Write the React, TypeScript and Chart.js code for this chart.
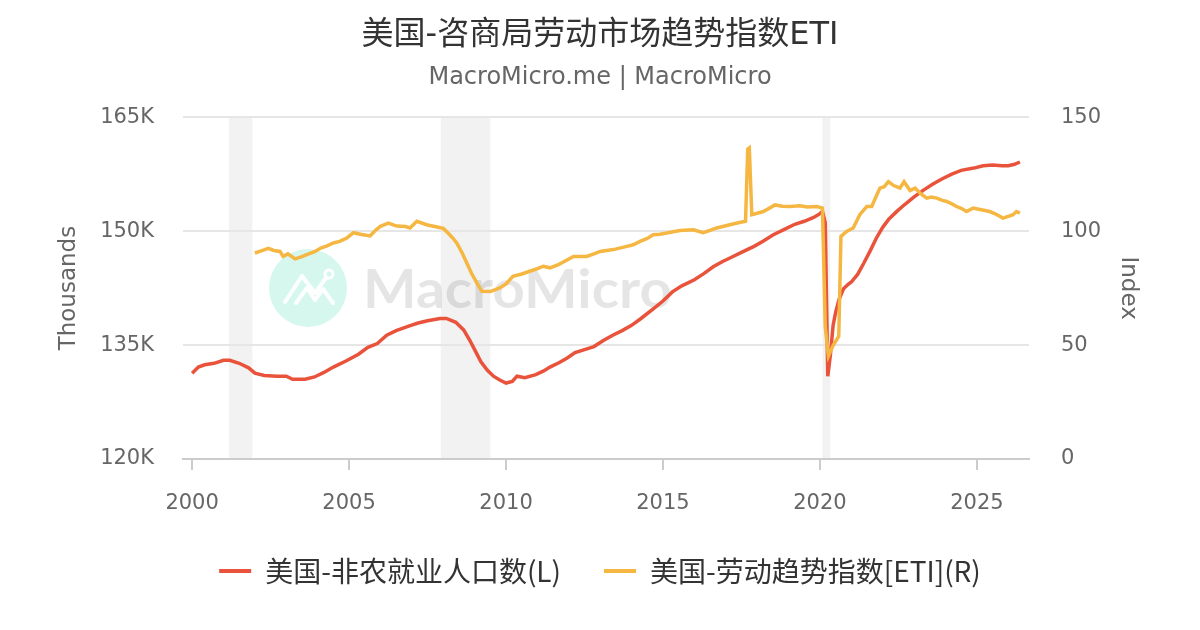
import { useEffect, useRef } from "react";
import { Chart, registerables } from "chart.js";

Chart.register(...registerables);

// ---- data ----
const chartTitle = "美国-咨商局劳动市场趋势指数ETI";
const chartSubtitle = "MacroMicro.me | MacroMicro";
const seriesNames = ["美国-非农就业人口数(L)", "美国-劳动趋势指数[ETI](R)"];
const seriesColors = ["#E9533B", "#F5B741"];
const leftAxisTitle = "Thousands";
const rightAxisTitle = "Index";
const yearTicks = [2000, 2005, 2010, 2015, 2020, 2025];
const leftTicks = [120, 135, 150, 165];
const rightTicks = [0, 50, 100, 150];
const recessions: [number, number][] = [
  [2001.17, 2001.92],
  [2007.92, 2009.5],
  [2020.08, 2020.33],
];

// US nonfarm payrolls, thousands of thousands (K) [year, value]
const payrollSeries: [number, number][] = [
  [2000.0, 131.3], [2000.2, 132.1], [2000.4, 132.4], [2000.7, 132.6], [2001.0, 133.0],
  [2001.2, 133.0], [2001.5, 132.6], [2001.8, 132.0], [2002.0, 131.3], [2002.3, 131.0],
  [2002.7, 130.9], [2003.0, 130.9], [2003.2, 130.5], [2003.6, 130.5], [2003.9, 130.8],
  [2004.2, 131.4], [2004.5, 132.1], [2004.9, 132.9], [2005.3, 133.8], [2005.6, 134.7],
  [2005.9, 135.2], [2006.2, 136.3], [2006.5, 136.9], [2006.9, 137.5], [2007.2, 137.9],
  [2007.5, 138.2], [2007.9, 138.5], [2008.1, 138.5], [2008.4, 138.0], [2008.65, 137.0],
  [2008.85, 135.6], [2009.0, 134.4], [2009.2, 132.8], [2009.4, 131.7], [2009.6, 130.9],
  [2009.8, 130.4], [2010.0, 130.0], [2010.2, 130.2], [2010.35, 130.9], [2010.6, 130.7],
  [2010.95, 131.1], [2011.2, 131.6], [2011.4, 132.1], [2011.7, 132.7], [2011.95, 133.3],
  [2012.2, 134.0], [2012.5, 134.4], [2012.8, 134.8], [2013.1, 135.6], [2013.4, 136.3],
  [2013.7, 136.9], [2014.0, 137.6], [2014.3, 138.5], [2014.7, 139.8], [2015.0, 140.8],
  [2015.3, 142.0], [2015.6, 142.8], [2016.0, 143.6], [2016.3, 144.4], [2016.6, 145.3],
  [2016.9, 146.0], [2017.2, 146.6], [2017.5, 147.2], [2017.9, 148.0], [2018.2, 148.7],
  [2018.5, 149.5], [2018.9, 150.3], [2019.2, 150.9], [2019.5, 151.3], [2019.8, 151.8],
  [2020.0, 152.3], [2020.08, 152.6], [2020.17, 151.1], [2020.25, 130.9], [2020.33, 133.6],
  [2020.42, 137.6], [2020.5, 139.3], [2020.6, 140.9], [2020.75, 142.4], [2020.9, 143.0],
  [2021.0, 143.3], [2021.2, 144.3], [2021.4, 145.8], [2021.6, 147.4], [2021.8, 149.1],
  [2022.0, 150.5], [2022.2, 151.6], [2022.45, 152.6], [2022.7, 153.5], [2023.0, 154.5],
  [2023.3, 155.4], [2023.6, 156.2], [2023.9, 156.9], [2024.2, 157.5], [2024.5, 158.0],
  [2024.9, 158.3], [2025.2, 158.6], [2025.5, 158.7], [2025.8, 158.6], [2026.0, 158.6],
  [2026.2, 158.8], [2026.37, 159.1],
];

// Conference Board Employment Trends Index [year, value]
const etiSeries: [number, number][] = [
  [2002.0, 90.4], [2002.2, 91.3], [2002.43, 92.4], [2002.6, 91.5], [2002.8, 91.1],
  [2002.9, 88.9], [2003.05, 90.0], [2003.28, 87.8], [2003.5, 88.8], [2003.65, 89.7],
  [2003.9, 91.0], [2004.1, 92.6], [2004.3, 93.5], [2004.5, 94.8], [2004.7, 95.5],
  [2004.93, 97.0], [2005.14, 99.3], [2005.4, 98.5], [2005.67, 97.9], [2005.85, 100.5],
  [2006.0, 102.1], [2006.25, 103.5], [2006.52, 102.2], [2006.8, 102.0], [2006.94, 101.4],
  [2007.16, 104.3], [2007.47, 102.8], [2007.8, 101.8], [2008.0, 101.2], [2008.1, 99.9],
  [2008.3, 97.0], [2008.43, 94.8], [2008.6, 90.5], [2008.75, 86.0], [2008.9, 81.5],
  [2009.07, 77.3], [2009.23, 73.6], [2009.5, 73.5], [2009.8, 75.1], [2010.0, 76.8],
  [2010.22, 80.2], [2010.5, 81.2], [2010.76, 82.4], [2011.0, 83.5], [2011.19, 84.6],
  [2011.4, 83.9], [2011.67, 85.3], [2011.9, 87.0], [2012.15, 88.9], [2012.57, 88.9],
  [2012.8, 90.0], [2013.0, 91.1], [2013.42, 91.9], [2013.85, 93.3], [2014.05, 94.0],
  [2014.27, 95.5], [2014.5, 96.8], [2014.69, 98.4], [2014.9, 98.6], [2015.12, 99.2],
  [2015.54, 100.3], [2015.97, 100.6], [2016.28, 99.3], [2016.5, 100.3], [2016.71, 101.4],
  [2017.13, 102.8], [2017.4, 103.7], [2017.63, 104.3], [2017.7, 136.0], [2017.75, 136.5],
  [2017.83, 107.2], [2018.2, 108.6], [2018.57, 111.5], [2018.8, 110.9], [2019.04, 110.8],
  [2019.36, 111.1], [2019.6, 110.6], [2019.9, 110.8], [2020.08, 110.1], [2020.17, 58.0],
  [2020.27, 45.2], [2020.41, 49.6], [2020.6, 53.9], [2020.67, 97.7], [2020.85, 99.9],
  [2021.06, 101.4], [2021.27, 107.2], [2021.49, 110.8], [2021.65, 110.8], [2021.8, 115.5],
  [2021.91, 118.9], [2022.05, 119.5], [2022.18, 121.7], [2022.35, 120.0], [2022.55, 118.9],
  [2022.68, 121.7], [2022.87, 117.8], [2023.03, 118.9], [2023.2, 116.5], [2023.4, 114.5],
  [2023.55, 115.0], [2023.72, 114.5], [2023.9, 113.5], [2024.04, 113.0], [2024.2, 112.0],
  [2024.35, 110.8], [2024.5, 110.0], [2024.67, 108.6], [2024.88, 110.1], [2025.1, 109.5],
  [2025.41, 108.6], [2025.6, 107.5], [2025.83, 105.7], [2026.0, 106.5], [2026.15, 107.2],
  [2026.26, 108.6], [2026.37, 107.9],
];

const BASE_FONT = "'DejaVu Sans', 'Noto Sans CJK SC', sans-serif";
const LEGEND_FONT = "'Noto Sans CJK SC', 'DejaVu Sans', sans-serif";

const bandPlugin = {
  id: "recessionBands",
  beforeDraw(chart: any) {
    const { ctx, chartArea, scales } = chart;
    const xs = scales.x;
    ctx.save();
    ctx.fillStyle = "#f2f2f2";
    recessions.forEach(([a, b]) => {
      const x1 = xs.getPixelForValue(a);
      const x2 = xs.getPixelForValue(b);
      ctx.fillRect(x1, chartArea.top, x2 - x1, chartArea.bottom - chartArea.top);
    });
    ctx.restore();
  },
};

const watermarkPlugin = {
  id: "watermark",
  beforeDatasetsDraw(chart: any) {
    const { ctx } = chart;
    ctx.save();
    // logo circle
    ctx.fillStyle = "rgba(180, 240, 222, 0.55)";
    ctx.beginPath();
    ctx.arc(308, 288, 39, 0, Math.PI * 2);
    ctx.fill();
    ctx.strokeStyle = "rgba(255,255,255,0.95)";
    ctx.lineWidth = 4;
    ctx.lineCap = "round";
    ctx.lineJoin = "round";
    ctx.beginPath();
    ctx.moveTo(285, 302);
    ctx.lineTo(302, 276);
    ctx.lineTo(315, 293);
    ctx.lineTo(326, 278);
    ctx.stroke();
    ctx.beginPath();
    ctx.moveTo(296, 303);
    ctx.lineTo(307, 288);
    ctx.lineTo(315, 300);
    ctx.lineTo(323, 289);
    ctx.lineTo(333, 303);
    ctx.stroke();
    ctx.lineWidth = 3;
    ctx.beginPath();
    ctx.arc(329, 274, 4, 0, Math.PI * 2);
    ctx.stroke();
    // wordmark
    ctx.font = "bold 54px Lato, 'DejaVu Sans', sans-serif";
    ctx.fillStyle = "rgba(0,0,0,0.1)";
    ctx.textBaseline = "alphabetic";
    const w = ctx.measureText("MacroMicro").width;
    ctx.translate(363, 308);
    ctx.scale(309 / w, 1);
    ctx.fillText("MacroMicro", 0, 0);
    ctx.restore();
  },
};

export default function App() {
  const ref = useRef<HTMLCanvasElement | null>(null);

  useEffect(() => {
    if (!ref.current) return;
    const chart = new Chart(ref.current, {
      type: "line",
      data: {
        datasets: [
          {
            label: seriesNames[0],
            data: payrollSeries.map(([x, y]) => ({ x, y })),
            borderColor: seriesColors[0],
            backgroundColor: seriesColors[0],
            borderWidth: 3.5,
            pointRadius: 0,
            fill: false,
            tension: 0,
            yAxisID: "y",
            order: 2,
          },
          {
            label: seriesNames[1],
            data: etiSeries.map(([x, y]) => ({ x, y })),
            borderColor: seriesColors[1],
            backgroundColor: seriesColors[1],
            borderWidth: 3.5,
            pointRadius: 0,
            fill: false,
            tension: 0,
            yAxisID: "y1",
            order: 1,
          },
        ],
      },
      options: {
        responsive: false,
        animation: false,
        devicePixelRatio: 1,
        layout: { padding: { left: 0, right: 0, top: 0, bottom: 35 } },
        plugins: {
          tooltip: { enabled: false },
          title: {
            display: true,
            text: chartTitle,
            color: "#333333",
            font: { family: BASE_FONT, size: 32, weight: "normal" },
            padding: { top: 16, bottom: 0 },
          },
          subtitle: {
            display: true,
            text: chartSubtitle,
            color: "#666666",
            font: { family: BASE_FONT, size: 24, weight: "normal" },
            padding: { top: 9, bottom: 25 },
          },
          legend: {
            position: "bottom",
            labels: {
              color: "#333333",
              font: { family: LEGEND_FONT, size: 28 },
              boxWidth: 32,
              boxHeight: 4,
              padding: 43,
              sort: (a: any, b: any) => a.datasetIndex - b.datasetIndex,
              generateLabels: (chart: any) =>
                chart.data.datasets.map((ds: any, i: number) => ({
                  text: ds.label,
                  fillStyle: ds.borderColor,
                  strokeStyle: ds.borderColor,
                  lineWidth: 0,
                  hidden: false,
                  datasetIndex: i,
                  fontColor: "#333333",
                })),
            },
          },
        },
        scales: {
          x: {
            type: "linear",
            min: 1999.71,
            max: 2026.66,
            afterBuildTicks: (scale: any) => {
              scale.ticks = yearTicks.map((v) => ({ value: v }));
            },
            afterFit: (scale: any) => {
              scale.height = 55;
            },
            ticks: {
              color: "#666666",
              font: { family: BASE_FONT, size: 21 },
              padding: 21,
              maxRotation: 0,
              autoSkip: false,
              callback: (v: any) => String(v),
            },
            grid: {
              display: true,
              drawOnChartArea: false,
              drawTicks: true,
              tickLength: 11,
              color: "#cccccc",
              lineWidth: 2,
            },
            border: { display: true, color: "#cccccc", width: 2 },
          },
          y: {
            type: "linear",
            position: "left",
            min: 120,
            max: 165,
            afterBuildTicks: (scale: any) => {
              scale.ticks = leftTicks.map((v) => ({ value: v }));
            },
            afterFit: (scale: any) => {
              scale.width = 183;
            },
            ticks: {
              color: "#666666",
              font: { family: BASE_FONT, size: 21 },
              padding: 29,
              callback: (v: any) => `${v}K`,
            },
            grid: { color: "#e6e6e6", lineWidth: 2, drawTicks: false },
            border: { display: false },
            title: {
              display: true,
              text: leftAxisTitle,
              color: "#666666",
              font: { family: BASE_FONT, size: 23 },
              padding: { top: 55, bottom: 0 },
            },
          },
          y1: {
            type: "linear",
            position: "right",
            min: 0,
            max: 150,
            afterBuildTicks: (scale: any) => {
              scale.ticks = rightTicks.map((v) => ({ value: v }));
            },
            afterFit: (scale: any) => {
              scale.width = 171;
            },
            ticks: {
              color: "#666666",
              font: { family: BASE_FONT, size: 21 },
              padding: 32,
              callback: (v: any) => String(v),
            },
            grid: { display: false, drawTicks: false },
            border: { display: false },
            title: {
              display: true,
              text: rightAxisTitle,
              color: "#666666",
              font: { family: BASE_FONT, size: 23 },
              padding: { top: 58, bottom: 0 },
            },
          },
        },
      },
      plugins: [bandPlugin, watermarkPlugin],
    } as any);
    return () => chart.destroy();
  }, []);

  return (
    <div style={{ position: "absolute", left: 0, top: 0, width: 1200, height: 630, background: "#ffffff" }}>
      <canvas ref={ref} width={1200} height={630} style={{ display: "block", width: 1200, height: 630 }} />
    </div>
  );
}
